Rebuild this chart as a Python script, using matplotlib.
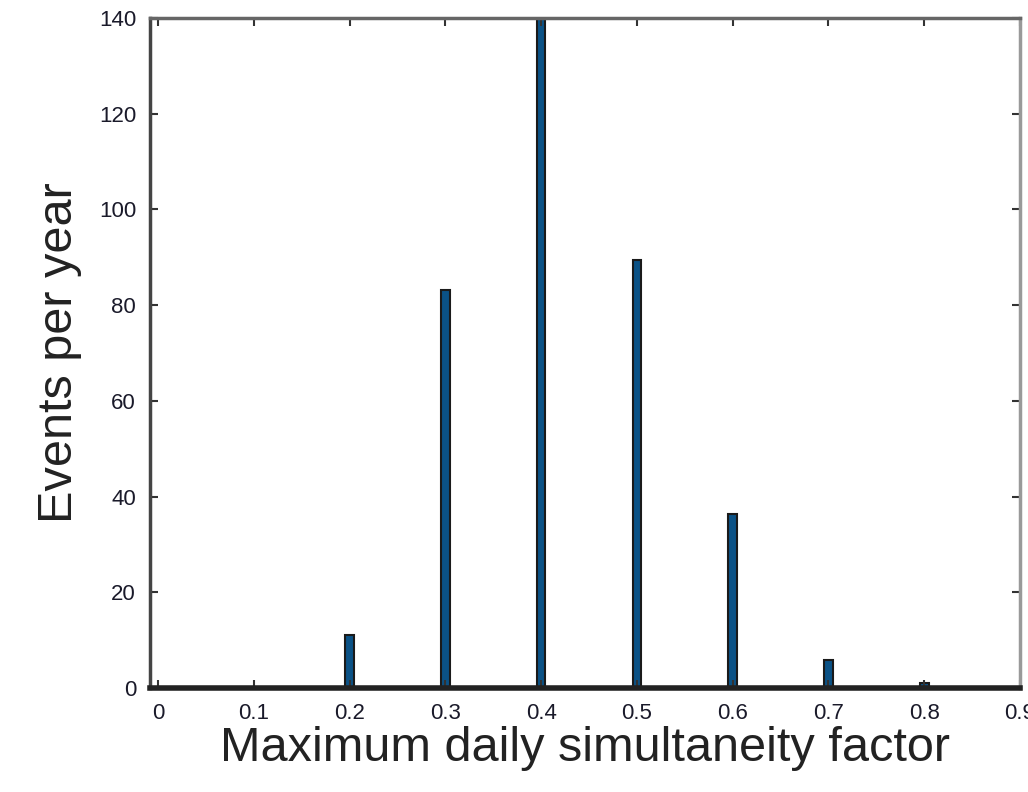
import numpy as np
import matplotlib
matplotlib.use("Agg")
import matplotlib.pyplot as plt

plt.rcParams["font.family"] = ["Liberation Sans", "DejaVu Sans"]

# Data
factor = [0.2, 0.3, 0.4, 0.5, 0.6, 0.7, 0.8]
events = [11.1, 83.2, 141.0, 89.4, 36.4, 5.8, 1.0]
bin_width = 0.01
x_ticks = [0, 0.1, 0.2, 0.3, 0.4, 0.5, 0.6, 0.7, 0.8, 0.9]
x_tick_labels = ["0", "0.1", "0.2", "0.3", "0.4", "0.5", "0.6", "0.7", "0.8", "0.9"]
y_ticks = [0, 20, 40, 60, 80, 100, 120, 140]

# full bin grid (empty bins have zero height)
grid = np.round(np.arange(0.0, 0.9, bin_width), 2)
heights = np.zeros_like(grid)
for f, e in zip(factor, events):
    heights[np.argmin(np.abs(grid - f))] = e

fig = plt.figure(figsize=(10.28, 7.92), dpi=100)
ax = fig.add_axes([0.1459, 0.1313, 0.8463, 0.8460])

ax.bar(grid, heights, width=0.009, color="#0b5286", edgecolor="#1a1a1a",
       linewidth=1.5, align="center")

ax.set_xlim(-0.0083, 0.895)
ax.set_ylim(0, 140)
ax.set_xticks(x_ticks)
ax.set_xticklabels(x_tick_labels)
ax.set_yticks(y_ticks)
ax.tick_params(direction="in", top=True, right=True, length=6, width=1.5,
               labelsize=16, colors="#333333", labelcolor="#1a1a2a")
ax.tick_params(axis="x", pad=11)
ax.tick_params(axis="y", pad=10)

for side, col in [("left", "#444444"), ("bottom", "#222222"),
                  ("top", "#666666"), ("right", "#999999")]:
    ax.spines[side].set_color(col)
    ax.spines[side].set_linewidth(2.5)
ax.spines["bottom"].set_linewidth(4)

ax.set_xlabel("Maximum daily simultaneity factor", fontsize=35, color="#222222",
              labelpad=1)
ax.set_ylabel("Events per year", fontsize=35, color="#222222", labelpad=12)

fig.savefig("out.png", dpi=100)
